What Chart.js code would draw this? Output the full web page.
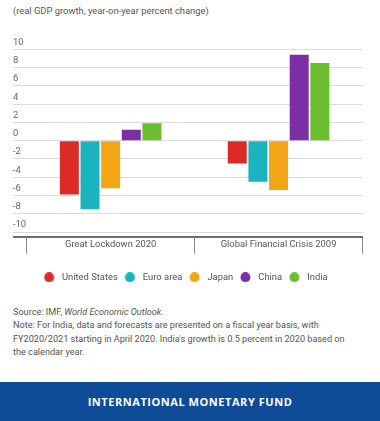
<!DOCTYPE html>
<html>
<head>
<meta charset="utf-8">
<script src="https://cdn.jsdelivr.net/npm/chart.js@4/dist/chart.umd.min.js"></script>
<style>
  html, body { margin: 0; padding: 0; background: #ffffff; }
  body { width: 380px; height: 421px; position: relative; overflow: hidden; font-family: Roboto, "Open Sans", sans-serif; }
  #subtitle { position: absolute; left: 13px; top: 5px; font-size: 9.4px; color: #555; white-space: nowrap; }
  #chartBox { position: absolute; left: 0; top: 0; width: 380px; height: 292px; }
  #notes { position: absolute; left: 13px; top: 306px; font-size: 9.15px; line-height: 13.3px; color: #555; white-space: nowrap; }
  #footer { position: absolute; left: 0; top: 382px; width: 380px; height: 39px; background: #0f4c97; color: #fff;
            font-family: "Open Sans", sans-serif; font-weight: 700; font-size: 11px; letter-spacing: 0.55px;
            text-align: center; line-height: 40px; }
</style>
</head>
<body>
<div id="subtitle">(real GDP growth, year-on-year percent change)</div>
<div id="chartBox"><canvas id="chart"></canvas></div>
<div id="notes">Source: IMF, <i>World Economic Outlook</i>.<br>Note: For India, data and forecasts are presented on a fiscal year basis, with<br>FY2020/2021 starting in April 2020. India's growth is 0.5 percent in 2020 based on<br>the calendar year.</div>
<div id="footer">INTERNATIONAL MONETARY FUND</div>
<script>
// ---- data ----
const categories = ['Great Lockdown 2020', 'Global Financial Crisis 2009'];
const seriesNames = ['United States', 'Euro area', 'Japan', 'China', 'India'];
const unitedStatesValues = [-5.9, -2.5];
const euroAreaValues = [-7.5, -4.5];
const japanValues = [-5.2, -5.4];
const chinaValues = [1.2, 9.4];
const indiaValues = [1.9, 8.5];
const yTickValues = [-10, -8, -6, -4, -2, 0, 2, 4, 6, 8, 10];
const axisFloor = -10.5;
const axisCeil = 10.5;

const seriesColors = ['#dc2a26', '#1bb3bd', '#f2a614', '#7a2fa5', '#6cbd2f'];
const seriesValues = [unitedStatesValues, euroAreaValues, japanValues, chinaValues, indiaValues];

function legendDot(color) {
  const c = document.createElement('canvas');
  c.width = 18; c.height = 10;
  const g = c.getContext('2d');
  g.fillStyle = color;
  g.beginPath();
  g.arc(5.5, 5, 5, 0, Math.PI * 2);
  g.fill();
  return c;
}

const font = { family: 'Roboto', size: 9.4 };

new Chart(document.getElementById('chart'), {
  type: 'bar',
  data: {
    labels: categories,
    datasets: seriesNames.map((name, i) => ({
      label: name,
      data: seriesValues[i],
      backgroundColor: seriesColors[i],
      borderWidth: 0,
      pointStyle: legendDot(seriesColors[i]),
      categoryPercentage: 0.615,
      barPercentage: 0.92
    }))
  },
  options: {
    responsive: true,
    maintainAspectRatio: false,
    animation: false,
    layout: { padding: { left: 13, right: 17.5, top: 44.8, bottom: 0 } },
    plugins: {
      tooltip: { enabled: false },
      legend: {
        position: 'bottom',
        labels: {
          usePointStyle: true,
          boxWidth: 9.4,
          boxHeight: 9.4,
          padding: 11,
          color: '#555',
          font: font
        }
      }
    },
    scales: {
      x: {
        border: { display: true, color: '#6e6e6e', width: 2 },
        grid: { drawOnChartArea: false, drawTicks: true, tickLength: 17, color: '#8a8a8a', offset: true },
        ticks: { padding: -15, color: '#555', font: font },
        afterFit: s => { s.height = 25; s.paddingLeft = 0; s.paddingRight = 0; }
      },
      y: {
        min: axisFloor,
        max: axisCeil,
        afterBuildTicks: s => { s.ticks = [axisFloor].concat(yTickValues).map(v => ({ value: v })); },
        afterFit: s => { s.width = 13.7; s.paddingTop = 0; s.paddingBottom = 0; },
        border: { display: false },
        grid: {
          color: c => (c.tick && c.tick.value === axisFloor) ? '#6e6e6e' : '#dcdcdc',
          lineWidth: c => (c.tick && c.tick.value === axisFloor) ? 2 : 1,
          tickLength: 13.7,
          drawTicks: true
        },
        ticks: {
          crossAlign: 'far',
          labelOffset: -7,
          padding: 0,
          color: '#666',
          font: font,
          callback: v => (v === axisFloor ? '' : String(v))
        }
      }
    }
  }
});
</script>
</body>
</html>
